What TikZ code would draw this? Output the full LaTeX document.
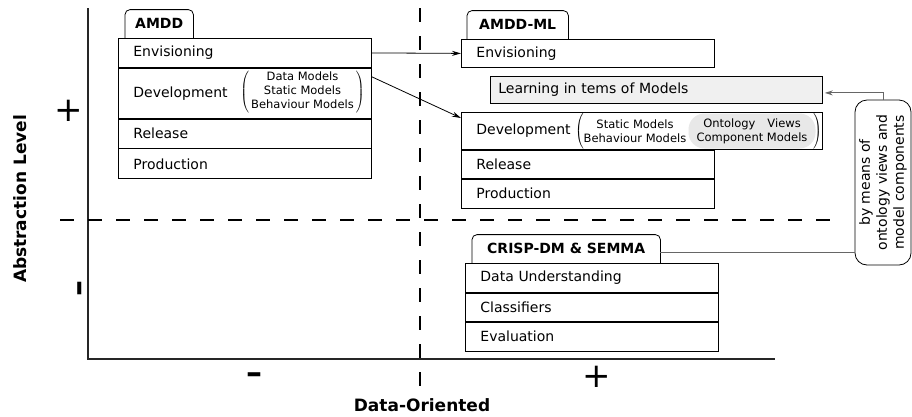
\documentclass[tikz,border=0pt]{standalone}
\usepackage{fontspec}
\setmainfont{DejaVu Sans}
\usetikzlibrary{arrows.meta}

\newcommand{\rowfont}{\fontsize{14}{17}\selectfont}
\newcommand{\smallfont}{\fontsize{11.5}{14}\selectfont}
\newcommand{\openpar}[1]{$\left(\vrule height #1 depth #1 width 0pt\right.$}
\newcommand{\closepar}[1]{$\left.\vrule height #1 depth #1 width 0pt\right)$}

\tikzset{
  row/.style={draw, line width=0.8pt, fill=white, anchor=north west, minimum height=29pt,
    text width=#1, inner xsep=15pt, inner ysep=0pt, align=left, font=\rowfont},
  tab/.style={anchor=south west, minimum height=28pt, inner sep=0pt, font=\rowfont\bfseries},
  models/.style={inner sep=0pt, font=\smallfont, align=center},
  axis/.style={line width=1.4pt, draw=black!85},
  split/.style={line width=1.4pt, dash pattern=on 14pt off 14pt},
  link/.style={-{Stealth[length=9pt,width=5pt]}, line width=0.8pt},
  grayline/.style={line width=1pt, draw=black!60},
  sign/.style={inner sep=0pt, font=\fontsize{34}{34}\selectfont},
  title/.style={inner sep=0pt, font=\fontsize{17}{20}\selectfont\bfseries},
}

\begin{document}
\begin{tikzpicture}[x=1pt,y=-1pt]
    \useasboundingbox (0,0) rectangle (912,416);

    % axes and quadrants
    \coordinate (yTop) at (88,8);
    \coordinate (origin) at (88,359);
    \coordinate (xEnd) at (775,359);
    \draw[axis] (yTop) -- (origin) -- (xEnd);
    \draw[split] (420,8) -- (420,386);
    \draw[split] (60,220) -- (830,220);

    \node[title, rotate=90] (absLabel) at (20,199) {Abstraction Level};
    \node[title] (dataLabel) at (422,405) {Data-Oriented};
    \node[sign] (plusY) at (69,111) {+};
    \node[sign, font=\fontsize{32}{32}\selectfont\bfseries, rotate=90] (minusY) at (83,288) {–};
    \node[sign, font=\fontsize{32}{32}\selectfont\bfseries] (minusX) at (254,378) {–};
    \node[sign] (plusX) at (597,377) {+};

    % AMDD
    \node[tab, minimum width=68pt] (amddTab) at (125,38) {AMDD};
    \node[row=223pt] (amddEnv) at (118,38) {Envisioning};
    \node[row=223pt, minimum height=50pt] (amddDev) at (amddEnv.south west) {Development};
    \node[row=223pt] (amddRel) at (amddDev.south west) {Release};
    \node[row=223pt, minimum height=30pt] (amddProd) at (amddRel.south west) {Production};
    \node[inner sep=0pt, font=\smallfont] (amddModels) at (302.5,92)
        {$\left(\,\begin{tabular}{@{}c@{}}Data Models\\Static Models\\Behaviour Models\end{tabular}\,\right)$};

    % AMDD-ML
    \node[tab, minimum width=101pt] (mlTab) at (467,39) {AMDD-ML};
    \node[row=223pt, minimum height=28pt] (mlEnv) at (461,39) {Envisioning};
    \node[row=316pt, minimum height=27pt, inner xsep=8pt, fill=gray!12] (mlLearn) at (490,76) {Learning in tems of Models};
    \node[row=331pt, minimum height=37pt] (mlDev) at (461,112) {Development};
    \node[row=223pt, minimum height=28pt] (mlRel) at (mlDev.south west) {Release};
    \node[row=223pt] (mlProd) at (mlRel.south west) {Production};
    \node[models] (mlStatic) at (635,131) {Static Models\\Behaviour Models};
    \node[models, fill=gray!18, rounded corners=16pt, minimum width=127pt, minimum height=35pt] (mlOnto) at (752,131) {Ontology\hspace{12pt}Views\\Component Models};
    \node[inner sep=0pt] (mlParL) at (580,131) {\openpar{16pt}};
    \node[inner sep=0pt] (mlParR) at (817,131) {\closepar{16pt}};

    % CRISP-DM & SEMMA
    \node[tab, minimum width=188pt] (crispTab) at (472,263) {CRISP-DM \& SEMMA};
    \node[row=223pt] (crispData) at (465,263) {Data Understanding};
    \node[row=223pt, minimum height=28pt] (crispClass) at (crispData.south west) {Classifiers};
    \node[row=223pt] (crispEval) at (crispClass.south west) {Evaluation};

    \foreach \t in {amddTab, mlTab, crispTab}
        \draw[line width=0.8pt, rounded corners=5pt] (\t.south west) |- (\t.north) -| (\t.south east);

    \node[draw, line width=0.8pt, rounded corners=12pt, rotate=90, minimum width=165pt, minimum height=56pt,
        inner sep=0pt, align=center, font=\rowfont] (meansBox) at (883,182.5)
        {by means of\\ontology views and\\model components};

    \draw[link] (amddEnv.east) -- (mlEnv.west);
    \draw[link] ([yshift=-9pt]amddDev.north east) -- ([yshift=-6pt]mlDev.north west);
    \draw[grayline, -{Stealth[length=8pt,width=5pt]}] (meansBox.east) |- ([yshift=-3pt,xshift=2pt]mlLearn.east);
    \draw[grayline] ([yshift=-4pt]crispTab.east) -- ([yshift=-4pt]crispTab.east -| meansBox.north);
\end{tikzpicture}
\end{document}
